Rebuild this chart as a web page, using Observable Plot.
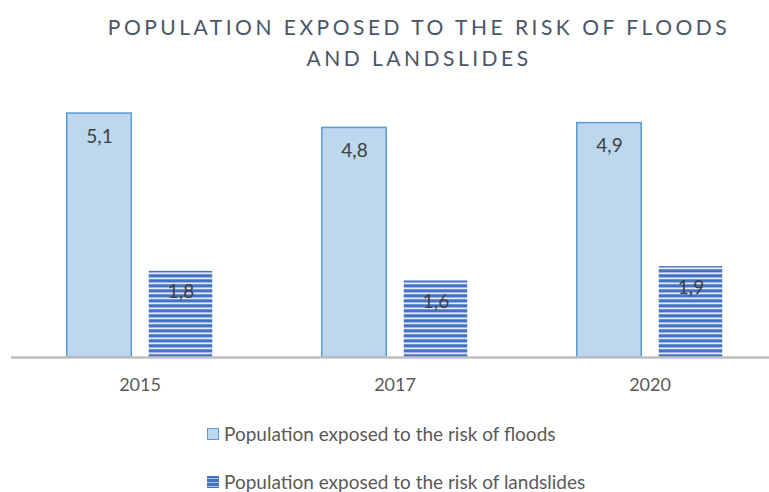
<!DOCTYPE html>
<html><head><meta charset="utf-8">
<script src="https://cdn.jsdelivr.net/npm/d3@7"></script>
<script src="https://cdn.jsdelivr.net/npm/@observablehq/plot@0.6"></script>
<style>
body{margin:0;background:#fff;font-family:Lato,"Open Sans",sans-serif;}
#wrap{position:relative;width:769px;height:492px;overflow:hidden;}
#title{position:absolute;left:69px;width:700px;top:11px;text-align:center;color:#4a5568;font-size:21px;letter-spacing:3.5px;line-height:31px;}
#chart{position:absolute;left:0;top:0;}
.leg{position:absolute;left:207px;font-size:19px;line-height:19px;height:19px;color:#595959;display:flex;align-items:center;white-space:nowrap;}
.sw{width:12px;height:12px;margin-right:5px;box-sizing:border-box;}
</style></head>
<body><div id="wrap">
<div id="title">POPULATION EXPOSED TO THE RISK OF FLOODS<br>AND LANDSLIDES</div>
<div id="chart"></div>
<div class="leg" style="top:424px"><div class="sw" style="background:#bdd7ee;border:1.5px solid #5b9bd5"></div><span>Population exposed to the risk of floods</span></div>
<div class="leg" style="top:472px"><div class="sw" style="background:repeating-linear-gradient(#4472c4 0 2px,#a9c0e8 2px 3px,#4472c4 3px 4px)"></div><span>Population exposed to the risk of landslides</span></div>
</div>
<script>
const years = ["2015", "2017", "2020"];
const floods = [5.1, 4.8, 4.9];
const landslides = [1.8, 1.6, 1.9];
const floodData = years.map((y, i) => ({year: y, value: floods[i]}));
const slideData = years.map((y, i) => ({year: y, value: landslides[i]}));
const fmt = v => String(v.toFixed(1)).replace(".", ",");

const chart = Plot.plot({
  width: 769,
  height: 420,
  marginLeft: 11,
  marginRight: 0,
  marginTop: 70,
  marginBottom: 63,
  style: {fontFamily: "Lato, 'Open Sans', sans-serif", overflow: "visible"},
  x: {domain: years, range: [11.25, 777.75], padding: 0, label: null},
  y: {domain: [0, 6], axis: null},
  marks: [
    Plot.barY(floodData, {x: "year", y: "value", fill: "#bdd7ee", stroke: "#5b9bd5", strokeWidth: 1.5, insetLeft: 54.75, insetRight: 135.75}),
    Plot.barY(slideData, {x: "year", y: "value", fill: "url(#stripes)", insetLeft: 136.75, insetRight: 54.75}),
    Plot.ruleY([0], {stroke: "#bfbfbf", strokeWidth: 2.5}),
    Plot.text(floodData, {x: "year", y: "value", text: d => fmt(d.value), dx: -40.5, dy: 23, fontSize: 19, fill: "#404040"}),
    Plot.text(slideData, {x: "year", y: "value", text: d => fmt(d.value), dx: 41, dy: 21, fontSize: 19, fill: "#404040"}),
    Plot.axisX({tickSize: 0, tickPadding: 21, fontSize: 18, fill: "#595959", label: null})
  ]
});
d3.select(chart).insert("defs", ":first-child").html(`
  <pattern id="stripes" patternUnits="userSpaceOnUse" width="8" height="5">
    <rect width="8" height="5" fill="#e4ebf7"/>
    <rect y="0" width="8" height="2" fill="#4472c4"/>
    <rect y="2" width="8" height="1" fill="#9db6e3"/>
    <rect y="4" width="8" height="1" fill="#6f92d3"/>
  </pattern>`);
document.getElementById("chart").appendChild(chart);
</script>
</body></html>
